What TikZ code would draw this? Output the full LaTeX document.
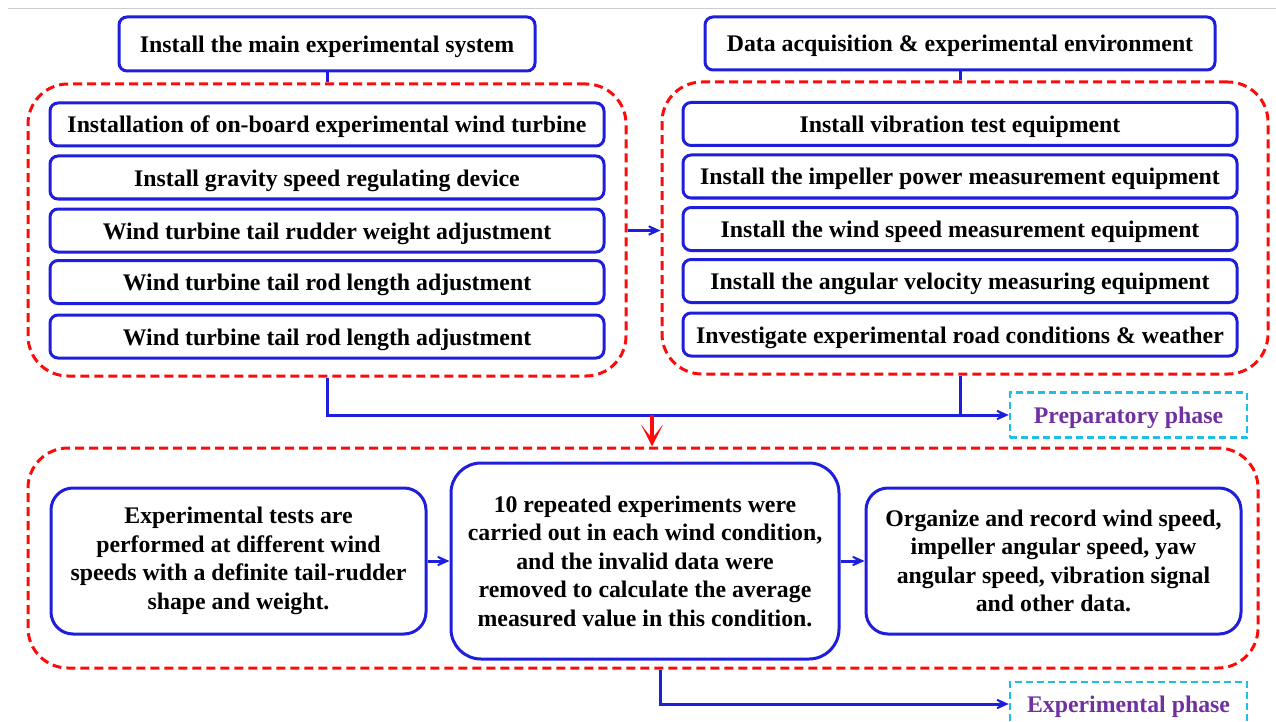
\documentclass[tikz,border=0pt]{standalone}
\usepackage{fontspec}
\setmainfont{Liberation Serif}
\usetikzlibrary{arrows.meta}
\definecolor{bblue}{RGB}{30,30,220}
\definecolor{rred}{RGB}{255,10,10}
\definecolor{ccyan}{RGB}{30,190,230}
\definecolor{ppurple}{RGB}{112,48,160}
\begin{document}
\begin{tikzpicture}[x=1pt,y=-1pt,
  font=\bfseries\fontsize{23.8}{28.5}\selectfont,
  box/.style={draw=bblue, line width=3pt, rounded corners=8pt, inner sep=0pt,
    minimum height=43pt, minimum width=554pt, align=center, text height=20pt, text depth=3pt},
  bigbox/.style={draw=bblue, line width=3pt, rounded corners=22pt, inner sep=0pt, align=center},
  container/.style={draw=rred, line width=3pt, dash pattern=on 9pt off 5pt, rounded corners=40pt, inner sep=0pt},
  phase/.style={draw=ccyan, line width=2.5pt, dash pattern=on 7pt off 4pt, text=ppurple,
    minimum width=237pt, inner sep=0pt, text height=19pt, text depth=3pt},
  conn/.style={draw=bblue, line width=3pt},
  arr/.style={draw=bblue, line width=3pt, -{Stealth[length=20pt,width=18pt,inset=13pt]}},
  redarr/.style={draw=rred, line width=4pt, -{Stealth[length=22pt,width=22pt,inset=14pt]}}
]
\useasboundingbox (0,0) rectangle (1276,722);
\draw[black!20, line width=1pt] (8,9) -- (1276,9);

% headers
\node[box, minimum width=416pt, minimum height=54pt] (lh) at (327,44) {Install the main experimental system};
\node[box, minimum width=510pt, minimum height=53pt] (rh) at (960,43.5) {Data acquisition \& experimental environment};

% containers
\node[container, minimum width=598pt, minimum height=292pt] (lc) at (327,230) {};
\node[container, minimum width=606pt, minimum height=292pt] (rc) at (965,228) {};
\node[container, minimum width=1230pt, minimum height=220pt] (bc) at (643,558) {};

% left items
\node[box] (l1) at (327,124.5) {Installation of on-board experimental wind turbine};
\node[box] (l2) at (327,177.5) {Install gravity speed regulating device};
\node[box] (l3) at (327,230.5) {Wind turbine tail rudder weight adjustment};
\node[box] (l4) at (327,282) {Wind turbine tail rod length adjustment};
\node[box] (l5) at (327,336.5) {Wind turbine tail rod length adjustment};

% right items
\node[box] (r1) at (960,124) {Install vibration test equipment};
\node[box] (r2) at (960,176.5) {Install the impeller power measurement equipment};
\node[box] (r3) at (960,229) {Install the wind speed measurement equipment};
\node[box] (r4) at (960,281) {Install the angular velocity measuring equipment};
\node[box] (r5) at (960,334.5) {Investigate experimental road conditions \& weather};

% phases
\node[phase, minimum height=45pt] (prep) at (1128.5,415) {Preparatory phase};
\node[phase, minimum height=44pt] (expp) at (1128.5,704) {Experimental phase};

% bottom boxes
\node[bigbox, minimum width=375pt, minimum height=146pt] (b1) at (238.5,561)
  {Experimental tests are\\performed at different wind\\speeds with a definite tail-rudder\\shape and weight.};
\node[bigbox, rounded corners=30pt, minimum width=388pt, minimum height=196pt] (b2) at (645,561)
  {10 repeated experiments were\\carried out in each wind condition,\\and the invalid data were\\removed to calculate the average\\measured value in this condition.};
\node[bigbox, minimum width=375pt, minimum height=146pt] (b3) at (1053.5,561)
  {Organize and record wind speed,\\impeller angular speed, yaw\\angular speed, vibration signal\\and other data.};

% connectors
\draw[conn] (lh.south) -- (lc.north);
\draw[conn] (rh.south) -- (rh.south |- rc.north);
\draw[arr] (lc.east |- l3) -- (rc.west |- l3);
\coordinate (j) at (960,415);
\coordinate (m) at (652,415);
\coordinate (e) at (660,0);
\draw[conn] (lc.south) |- (j);
\draw[arr] (rh.south |- rc.south) -- (j) -- (prep.west);
\draw[redarr] (m) -- (m |- bc.north);
\draw[arr] (b1.east) -- (b2.west);
\draw[arr] (b2.east) -- (b3.west);
\draw[arr] (bc.south -| e) |- (expp.west);
\end{tikzpicture}
\end{document}
